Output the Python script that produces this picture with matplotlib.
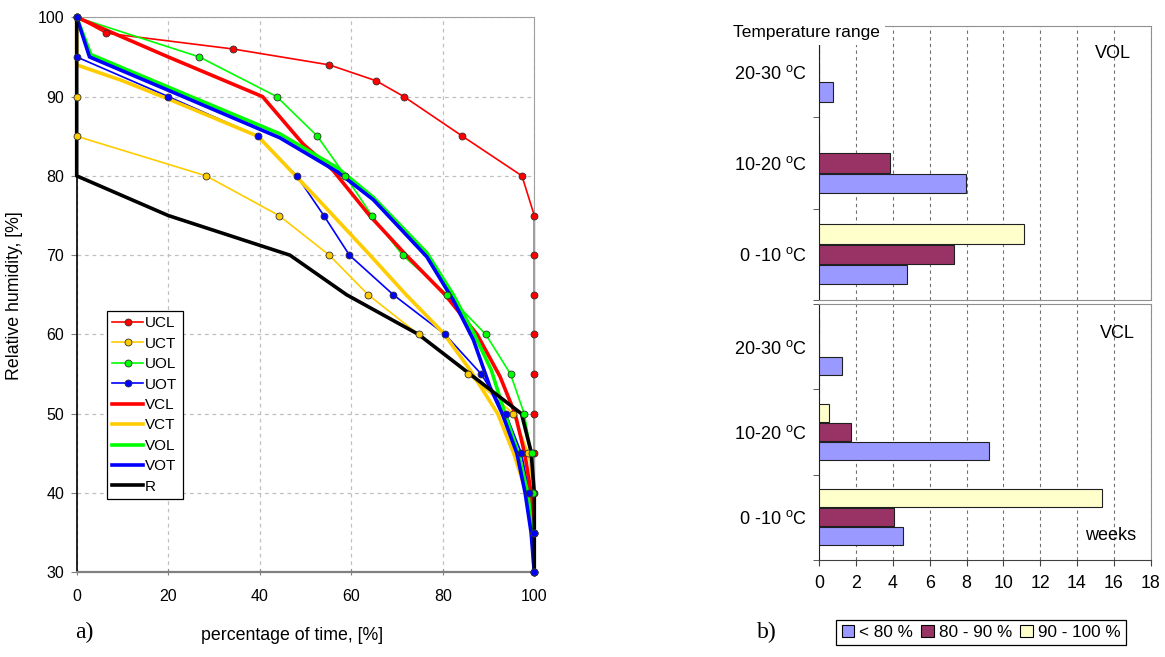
import matplotlib
matplotlib.use("Agg")
import matplotlib.pyplot as plt
from matplotlib.lines import Line2D
from matplotlib.patches import Patch
import numpy as np

plt.rcParams['font.family'] = ['Liberation Sans', 'DejaVu Sans']
plt.rcParams['mathtext.fontset'] = 'custom'
plt.rcParams['mathtext.rm'] = 'Liberation Sans'

# ---------------- data: a) humidity duration curves ----------------
UCL_x = [0, 6.4, 34.2, 55.2, 65.4, 71.5, 84.3, 97.3, 100, 100, 100, 100, 100, 100, 100, 100, 100, 100]
UCL_y = [100, 98, 96, 94, 92, 90, 85, 80, 75, 70, 65, 60, 55, 50, 45, 40, 35, 30]
UCT_x = [0, 0, 0, 28.3, 44.2, 55.2, 63.7, 74.7, 85.6, 95.4, 98.7, 99.8, 100, 100]
UCT_y = [100, 90, 85, 80, 75, 70, 65, 60, 55, 50, 45, 40, 35, 30]
UOL_x = [0, 26.8, 43.7, 52.6, 58.7, 64.5, 71.2, 81, 89.4, 94.8, 97.8, 99.4, 99.8, 100, 100]
UOL_y = [100, 95, 90, 85, 80, 75, 70, 65, 60, 55, 50, 45, 40, 35, 30]
UOT_x = [0, 0, 20, 39.6, 48.1, 54, 59.6, 69.2, 80.5, 88.4, 93.8, 97.2, 98.9, 100, 100]
UOT_y = [100, 95, 90, 85, 80, 75, 70, 65, 60, 55, 50, 45, 40, 35, 30]
VCL_x = [0, 20, 40.6, 49.5, 56, 64, 72, 80.5, 87.5, 92.5, 95.8, 97.9, 99.3, 99.8, 100]
VCL_y = [100, 95, 90, 84, 80.7, 75, 70, 65, 60, 54.7, 50, 45, 40, 35, 30]
VCT_x = [0, 0, 10, 20, 39.6, 52.8, 64.1, 72, 80.1, 86, 92, 95.5, 98.3, 99.5, 100]
VCT_y = [100, 94, 92, 89.7, 85, 77, 70, 65, 60.2, 55.5, 50, 45, 40, 35, 30]
VOL_x = [0, 3.1, 20, 44.4, 57, 64.8, 76.5, 82.3, 86.9, 90.6, 93.6, 96.5, 98.6, 99.5, 100]
VOL_y = [100, 95.3, 91.2, 85.3, 81, 77.3, 70.3, 65, 60, 55.5, 50, 45, 40, 35, 30]
VOT_x = [0, 2.8, 20, 44.4, 57, 64.8, 76.5, 82.3, 86.7, 90.3, 93, 96.2, 98, 99.3, 100]
VOT_y = [100, 95, 90.8, 84.8, 80.5, 77, 69.8, 64.3, 59.3, 53.4, 50, 45, 40, 35, 30]
R_x = [0, 0, 20, 46.6, 59, 74.7, 97.2, 99.3, 100, 100]
R_y = [100, 80, 75, 70, 65, 60, 50, 45.2, 40, 30]

# ---------------- data: b) weeks per temperature range ----------------
temp_ranges = ['0 -10 $^{\\rm o}$C', '10-20 $^{\\rm o}$C', '20-30 $^{\\rm o}$C']
hum_classes = ['< 80 %', '80 - 90 %', '90 - 100 %']
VOL_lt80 = [4.78, 7.96, 0.76]
VOL_80_90 = [7.33, 3.86, 0.0]
VOL_90_100 = [11.1, 0.0, 0.0]
VCL_lt80 = [4.57, 9.24, 1.22]
VCL_80_90 = [4.04, 1.70, 0.0]
VCL_90_100 = [15.35, 0.54, 0.0]

RED, ORA, GRN, BLU = '#FF0000', '#FFCC00', '#00FF00', '#0000FF'
C_LT80, C_8090, C_90 = '#9999FF', '#993366', '#FFFFCC'

W, H = 1165, 657
fig = plt.figure(figsize=(W / 100, H / 100), dpi=100)

# ================= left chart =================
ax = fig.add_axes([76.7 / W, 1 - 572.3 / H, (534.3 - 76.7) / W, (572.3 - 17.3) / H])
ax.set_xlim(0, 100)
ax.set_ylim(30, 100)
ax.set_xticks(np.arange(0, 101, 20))
ax.set_yticks(np.arange(30, 101, 10))
ax.grid(True, linestyle=(0, (3, 3)), color='#C0C0C0', lw=0.9)
ax.set_axisbelow(True)
ax.tick_params(axis='both', labelsize=11.5, colors='black', length=4)
ax.tick_params(axis='x', direction='inout', pad=10, color='#808080')
ax.tick_params(axis='y', direction='out', pad=5, color='#808080')
for s in ['top', 'right']:
    ax.spines[s].set_color('#A0A0A0')
ax.spines['bottom'].set_color('#808080')
ax.spines['bottom'].set_linewidth(1.6)
ax.spines['left'].set_color('black')
ax.spines['left'].set_linewidth(1.2)

thin = 1.2
thick = 2.6
ms = 5
series_u = [(UCL_x, UCL_y, RED, 'UCL'), (UCT_x, UCT_y, ORA, 'UCT'),
            (UOL_x, UOL_y, GRN, 'UOL'), (UOT_x, UOT_y, BLU, 'UOT')]
series_v = [(VCL_x, VCL_y, RED, 'VCL'), (VCT_x, VCT_y, ORA, 'VCT'),
            (VOL_x, VOL_y, GRN, 'VOL'), (VOT_x, VOT_y, BLU, 'VOT'),
            (R_x, R_y, 'black', 'R')]
handles = []
for x, y, c, lab in series_u:
    ax.plot(x, y, color=c, lw=thin, zorder=2, clip_on=False)
    handles.append(Line2D([], [], color=c, lw=thin, marker='o', ms=ms,
                          mfc=c, mec='#303030', mew=0.6, label=lab))
for x, y, c, lab in series_v:
    ax.plot(x, y, color=c, lw=thick, zorder=3, clip_on=False)
    handles.append(Line2D([], [], color=c, lw=thick, label=lab))
for x, y, c, lab in series_u:
    ax.plot(x, y, ls='none', marker='o', ms=ms, mfc=c, mec='#303030',
            mew=0.6, zorder=5, clip_on=False)

leg = ax.legend(handles=handles, loc='lower left',
                bbox_to_anchor=(0.066, 0.132), fontsize=11, frameon=True,
                fancybox=False, edgecolor='black', framealpha=1,
                handlelength=2.0, handletextpad=0.15, labelspacing=0.42,
                borderpad=0.35, borderaxespad=0)
leg.get_frame().set_linewidth(0.9)

ax.set_xlabel('percentage of time, [%]', fontsize=12.8)
ax.set_ylabel('Relative humidity, [%]', fontsize=12.8)
ax.xaxis.set_label_coords(0.47, -0.098)
ax.yaxis.set_label_coords(-0.117, 0.498)

fig.text(75 / W, 1 - 632 / H, 'a)', family='Liberation Serif', fontsize=17,
         ha='left', va='center')
fig.text(757 / W, 1 - 632 / H, 'b)', family='Liberation Serif', fontsize=17,
         ha='left', va='center')

# ================= right charts =================
def bar_panel(axb, lt80, b8090, b90, show_x):
    pos = np.arange(len(temp_ranges))
    h = 0.21
    off = 0.222
    axb.barh(pos - off, lt80, height=h, color=C_LT80, edgecolor='#202020', lw=0.8, zorder=3)
    axb.barh(pos, b8090, height=h, color=C_8090, edgecolor='#202020', lw=0.8, zorder=3)
    axb.barh(pos + off, b90, height=h, color=C_90, edgecolor='#202020', lw=0.8, zorder=3)
    axb.set_xlim(0, 18)
    axb.set_ylim(-0.5, 2.5)
    axb.set_xticks(np.arange(0, 19, 2))
    axb.set_yticks(pos)
    axb.set_yticklabels(temp_ranges, fontsize=13)
    axb.set_yticks([-0.5, 0.5, 1.5, 2.5], minor=True)
    axb.tick_params(axis='y', which='major', length=0, pad=9)
    axb.tick_params(axis='y', which='minor', length=4, direction='out', color='#404040')
    axb.xaxis.grid(True, linestyle=(0, (3, 3)), color='#707070', lw=0.8)
    axb.set_axisbelow(True)
    for s in ['top', 'right']:
        axb.spines[s].set_color('#909090')
    axb.spines['left'].set_color('#202020')
    axb.spines['left'].set_linewidth(0.8)
    if show_x:
        axb.tick_params(axis='x', labelsize=12.8, length=4, direction='out',
                        color='#404040', pad=7)
        axb.spines['bottom'].set_color('#404040')
    else:
        axb.tick_params(axis='x', labelbottom=False, length=0)
        axb.spines['bottom'].set_color('#909090')

ax1 = fig.add_axes([819.3 / W, 1 - 300 / H, (1150.5 - 819.3) / W, (300 - 26) / H])
bar_panel(ax1, VOL_lt80, VOL_80_90, VOL_90_100, False)
ax2 = fig.add_axes([819.3 / W, 1 - 560 / H, (1150.5 - 819.3) / W, (560 - 304) / H])
bar_panel(ax2, VCL_lt80, VCL_80_90, VCL_90_100, True)

fig.text(1113 / W, 1 - 53 / H, 'VOL', fontsize=13, ha='center', va='center')
fig.text(1117 / W, 1 - 333 / H, 'VCL', fontsize=13, ha='center', va='center')
fig.text(1111 / W, 1 - 536 / H, 'weeks', fontsize=13, ha='center', va='center')
fig.text(733 / W, 1 - 32 / H, 'Temperature range', fontsize=12.5, ha='left',
         va='center', bbox=dict(facecolor='white', edgecolor='none', pad=4))

pat = [Patch(facecolor=c, edgecolor='black', lw=0.8, label=l)
       for c, l in zip([C_LT80, C_8090, C_90], hum_classes)]
leg2 = fig.legend(handles=pat, loc='center', bbox_to_anchor=(981 / W, 1 - 632.5 / H),
                  ncol=3, fontsize=12.3, frameon=True, fancybox=False,
                  edgecolor='black', framealpha=1, handlelength=0.75,
                  handleheight=0.75, handletextpad=0.3, columnspacing=0.45,
                  borderpad=0.3)
leg2.get_frame().set_linewidth(0.9)

fig.savefig('out.png', dpi=100)
